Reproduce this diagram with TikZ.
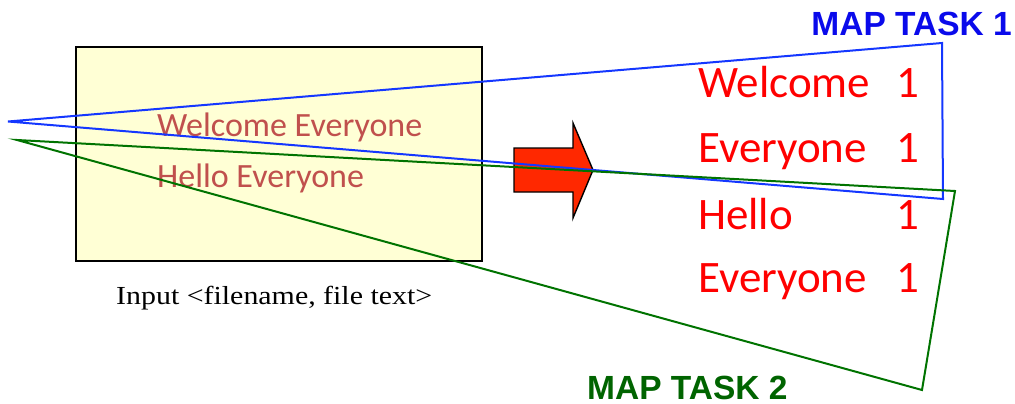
\documentclass[tikz,border=0pt]{standalone}
\usepackage{fontspec}
\setmainfont{Carlito}
\newfontfamily\taskfont{Liberation Sans}
\newfontfamily\capfont{Liberation Serif}
\definecolor{boxyellow}{RGB}{255,255,213}
\definecolor{filered}{RGB}{192,80,77}
\definecolor{wordred}{RGB}{255,0,0}
\definecolor{arrowred}{RGB}{255,40,0}
\definecolor{lineblue}{RGB}{20,55,255}
\definecolor{taskblue}{RGB}{10,10,235}
\definecolor{linegreen}{RGB}{0,115,0}
\definecolor{taskgreen}{RGB}{0,100,0}

\begin{document}
\begin{tikzpicture}[x=1pt, y=-1pt,
    word/.style={anchor=base west, inner sep=0pt, text=wordred, font=\fontsize{45}{52}\selectfont},
    count/.style={anchor=base east, inner sep=0pt, text=wordred, font=\fontsize{45}{52}\selectfont},
    filetext/.style={anchor=base west, inner sep=0pt, text=filered, font=\fontsize{34}{40}\selectfont},
    tasklabel/.style={inner sep=0pt, font=\taskfont\bfseries\fontsize{33.5}{38}\selectfont},
    task/.style={line width=2pt, line join=miter}]
    \useasboundingbox (0,0) rectangle (1015,404);

    % input file
    \node[draw, line width=1.6pt, fill=boxyellow, minimum width=406pt, minimum height=214pt, inner sep=0pt, anchor=north west] (input) at (75,46) {};
    \node[filetext] (in_w) at (157,136) {Welcome Everyone};
    \node[filetext] (in_h) at (157,187) {Hello Everyone};
    \node[anchor=base west, inner sep=0pt, font=\capfont\fontsize{26}{30}\selectfont] (cap) at (116,304) {\scalebox{1.15}[1]{Input <filename, file text>}};

    % big arrow
    \draw[line width=1.4pt, fill=arrowred, line join=miter] (514,148) -- (573,148) -- (573,123) -- (593,170) -- (573,218) -- (573,192) -- (514,192) -- cycle;

    % map output
    \node[word] (w1) at (698,98) {Welcome};
    \node[word] (w2) at (698,162) {Everyone};
    \node[word] (w3) at (698,229) {Hello};
    \node[word] (w4) at (698,292) {Everyone};
    \node[count] (c1) at (919,98) {1};
    \node[count] (c2) at (919,162) {1};
    \node[count] (c3) at (919,229) {1};
    \node[count] (c4) at (919,292) {1};

    % map tasks
    \coordinate (b1) at (8,121.5);
    \coordinate (b2) at (942,43);
    \coordinate (b3) at (943,199);
    \coordinate (g1) at (17,140);
    \coordinate (g2) at (955,191);
    \coordinate (g3) at (922,390);
    \draw[task, lineblue] (b1) -- (b2) -- (b3) -- cycle;
    \draw[task, linegreen] (g1) -- (g2) -- (g3) -- cycle;

    \node[tasklabel, text=taskblue, anchor=base east] (t1) at (1012,36) {MAP TASK 1};
    \node[tasklabel, text=taskgreen, anchor=base west] (t2) at (587,399) {MAP TASK 2};
\end{tikzpicture}
\end{document}
